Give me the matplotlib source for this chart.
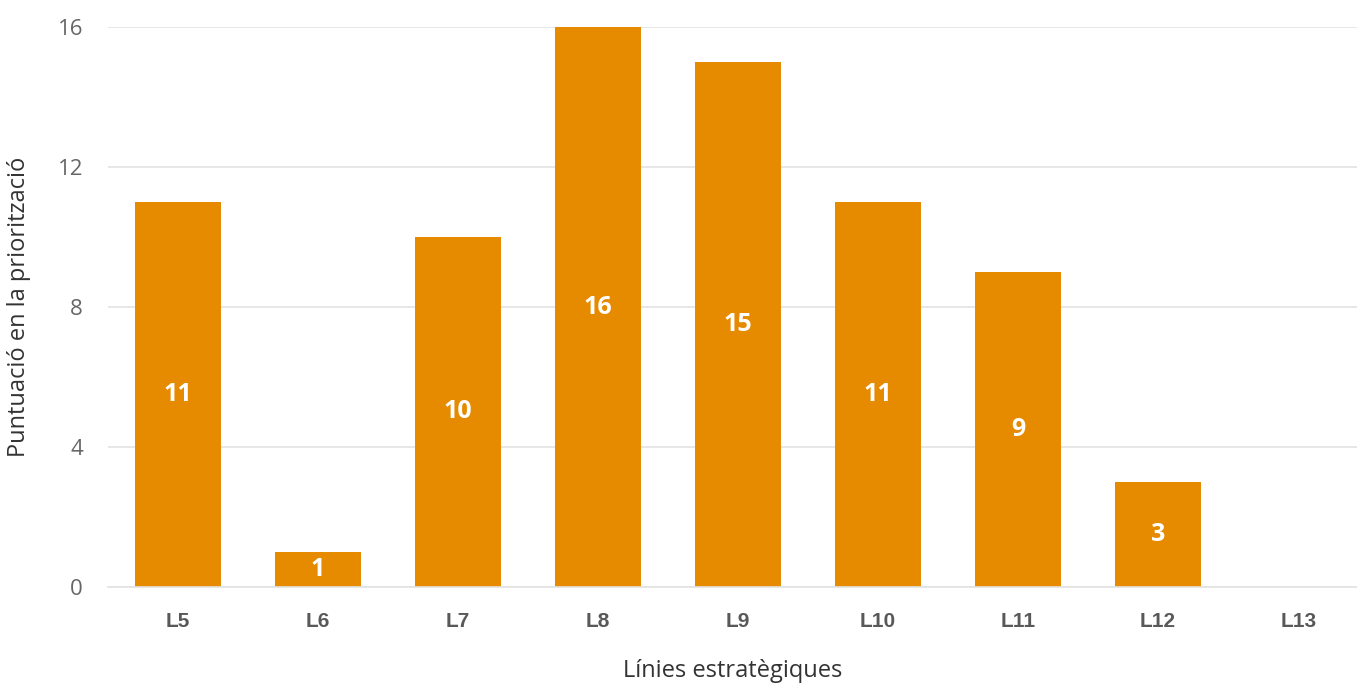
from matplotlib import pyplot as plt
import numpy as np

plt.rcParams['font.family'] = ['Open Sans', 'DejaVu Sans']

categories = ["L5", "L6", "L7", "L8", "L9", "L10", "L11", "L12", "L13"]
scores = [11, 1, 10, 16, 15, 11, 9, 3, 0]
y_ticks = [0, 4, 8, 12, 16]

bar_color = "#E68A00"
text_gray = "#595959"

fig = plt.figure(figsize=(13.57, 6.88), dpi=100)
ax = fig.add_axes([108 / 1357, 1 - 587 / 688, (1357 - 108) / 1357, 560 / 688])

x = np.arange(len(categories))
bars = ax.bar(x, scores, width=0.615, color=bar_color, zorder=2)

for rect, val in zip(bars, scores):
    if val == 0:
        continue
    ax.text(rect.get_x() + rect.get_width() / 2, val / 2, str(val),
            ha="center", va="center", color="white",
            fontsize=18, fontweight="bold")

ax.set_xlim(-0.5, 8.42)
ax.set_ylim(0, 16)
ax.set_yticks(y_ticks)
ax.set_xticks(x)
ax.set_xticklabels(categories, fontweight="bold", fontsize=15, color=text_gray,
                   family=['Liberation Sans', 'DejaVu Sans'])
ax.tick_params(axis="y", labelsize=16, labelcolor="#666666", length=0, pad=18)
ax.tick_params(axis="x", length=0, pad=18)

ax.yaxis.grid(True, color="#E3E3E3", linewidth=1.2, zorder=0)
for side in ["top", "right", "left"]:
    ax.spines[side].set_visible(False)
ax.spines["bottom"].set_color("#E3E3E3")
ax.spines["bottom"].set_linewidth(1.2)

ax.set_ylabel("Puntuació en la priorització", fontsize=17, color="#333333")
ax.set_xlabel("Línies estratègiques", fontsize=17, color="#333333", labelpad=20)
ax.yaxis.set_label_coords(-0.062, 0.5)

fig.savefig("out.png", dpi=100)
